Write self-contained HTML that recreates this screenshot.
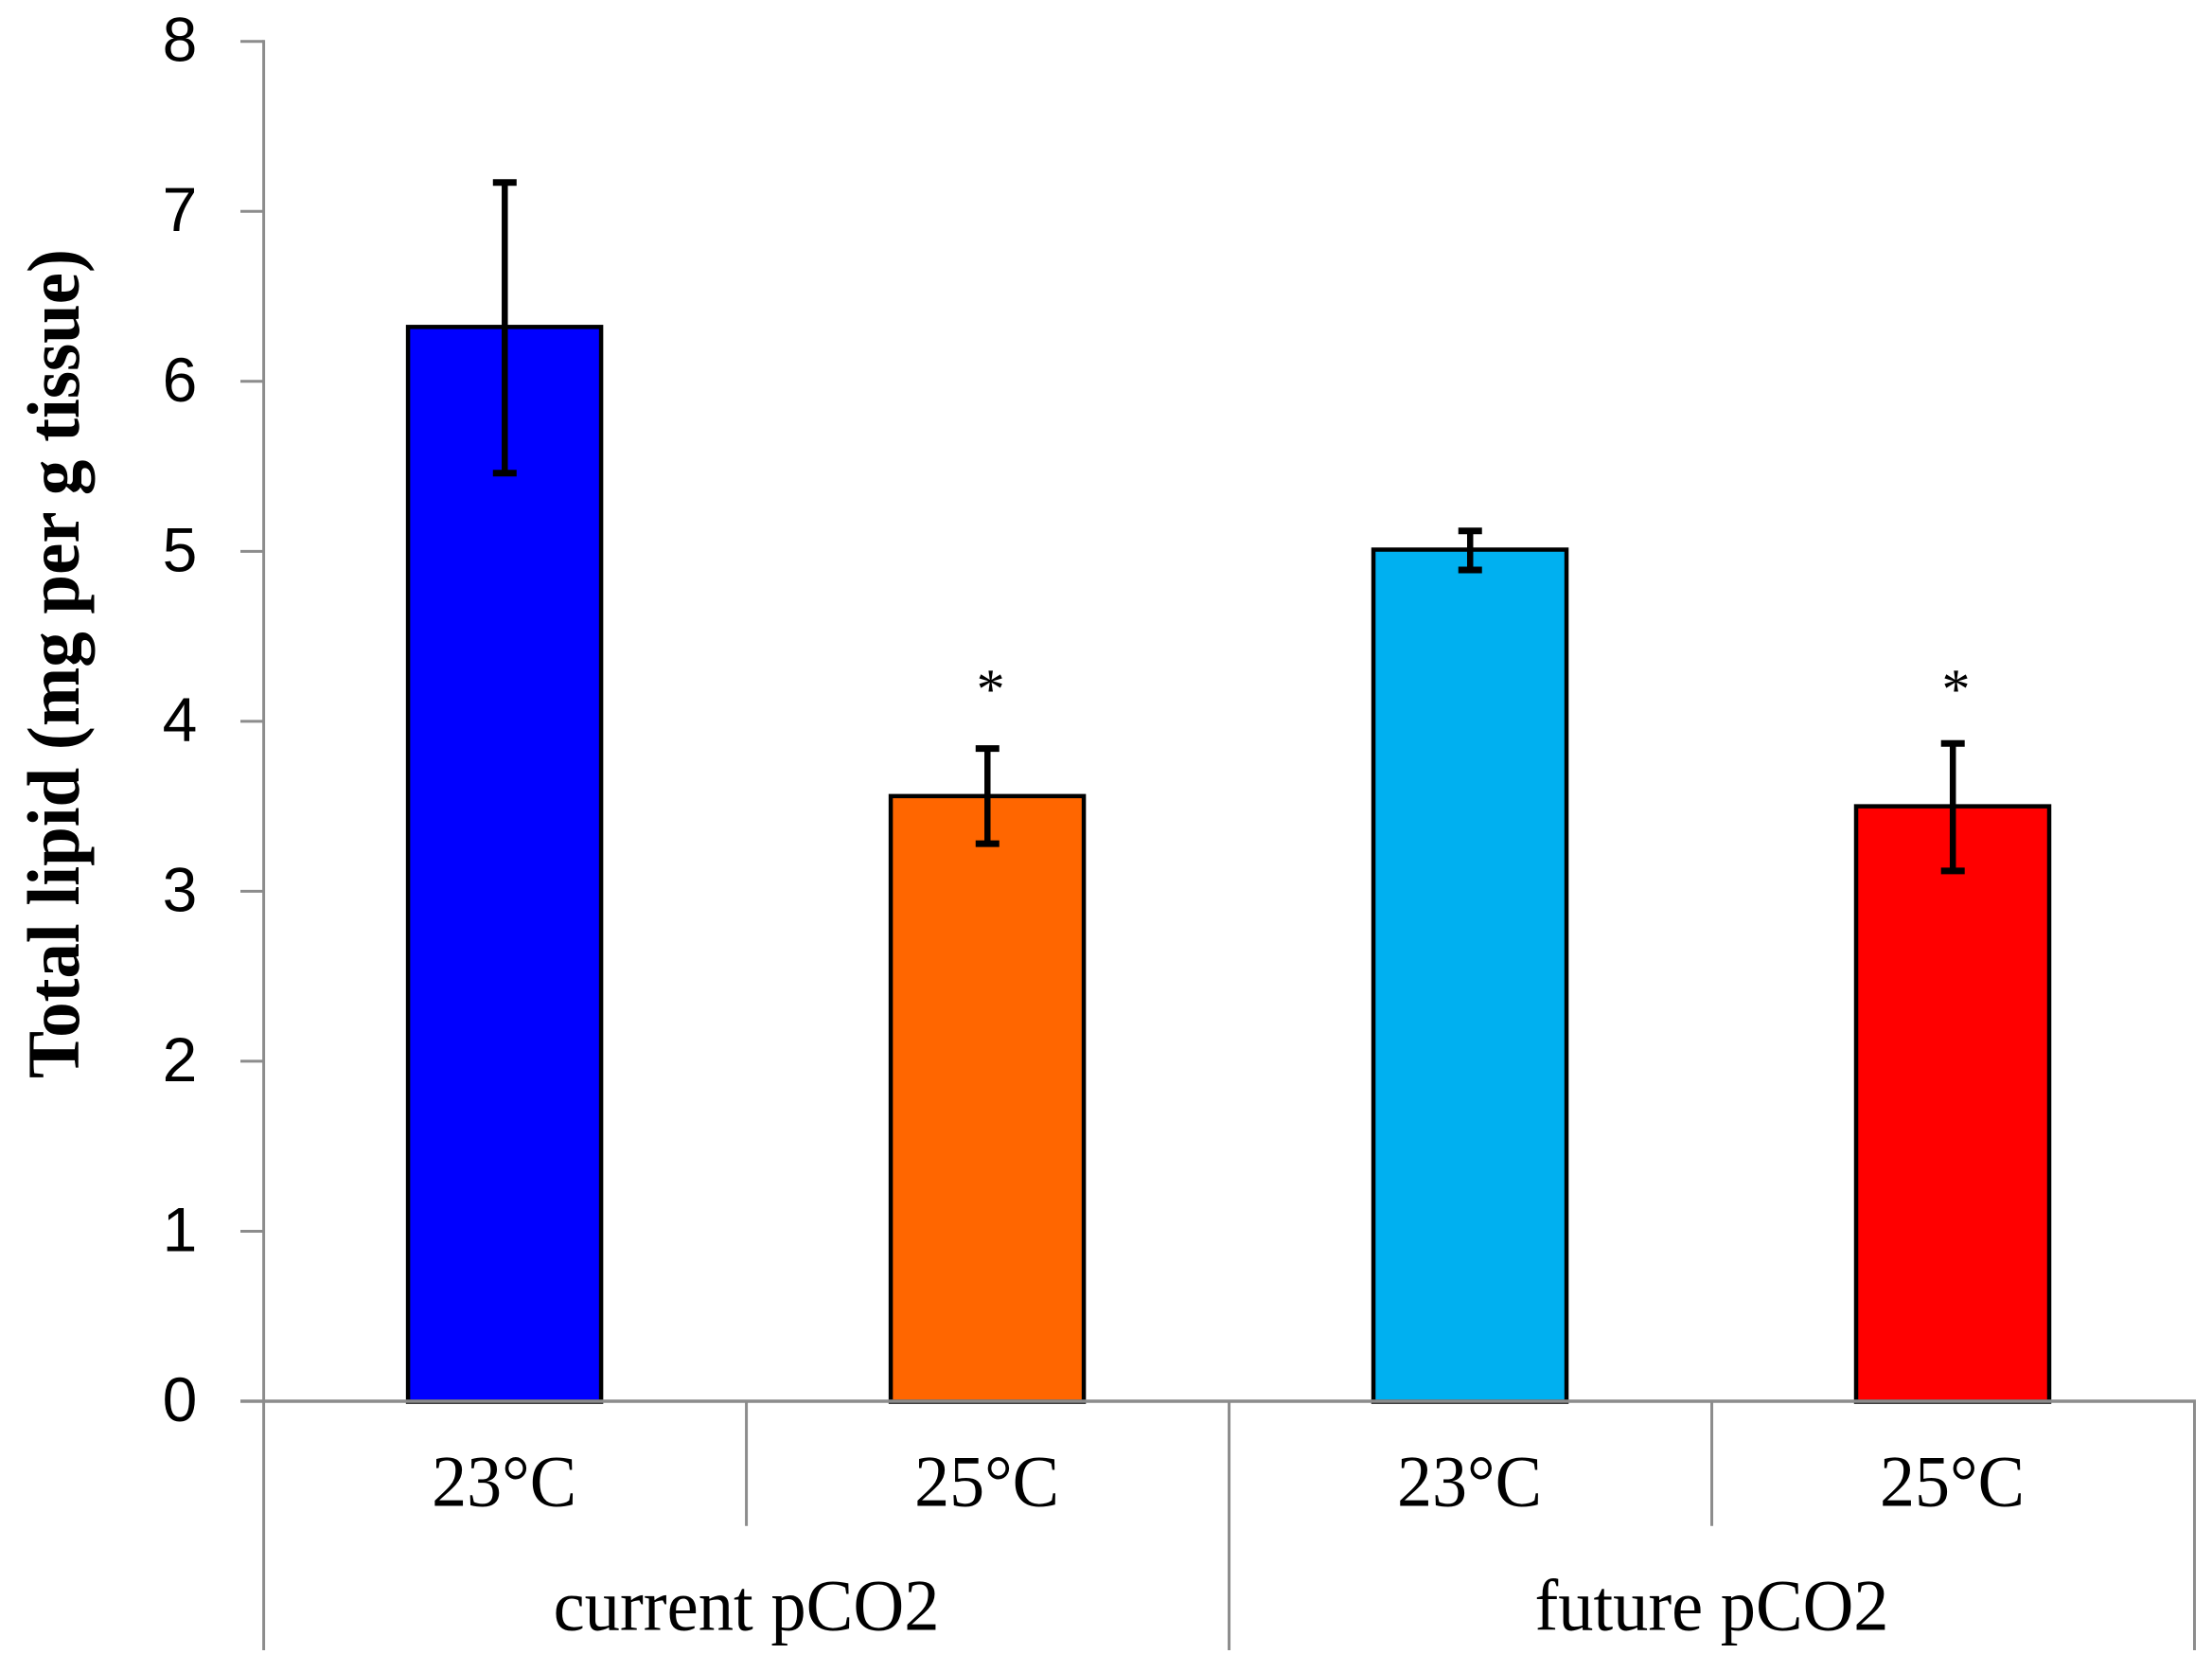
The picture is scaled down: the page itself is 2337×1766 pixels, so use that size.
<!DOCTYPE html>
<html lang="en">
<head>
<meta charset="utf-8">
<title>Total lipid bar chart</title>
<style>
html,body{margin:0;padding:0;background:#fff;width:2337px;height:1766px;overflow:hidden}
svg{display:block}
text{fill:#000}
.serif{font-family:"Liberation Serif",serif}
.sans{font-family:"Liberation Sans",sans-serif}
</style>
</head>
<body>
<svg id="chart" xmlns="http://www.w3.org/2000/svg" width="2337" height="1766" viewBox="0 0 2337 1766">
<rect x="0" y="0" width="2337" height="1766" fill="#ffffff"/>
<text class="serif" font-weight="bold" font-size="78" text-anchor="middle" textLength="876" lengthAdjust="spacingAndGlyphs" transform="translate(83,701) rotate(-90)">Total lipid (mg per g tissue)</text>
</svg>
<script>
const categories = ['23°C', '25°C', '23°C', '25°C'];
const groups = ['current pCO2', 'future pCO2'];
const lipidValues = [6.32, 3.56, 5.01, 3.5];
const errorUpper = [7.17, 3.84, 5.12, 3.87];
const errorLower = [5.46, 3.28, 4.89, 3.12];
const significant = [false, true, false, true];
const barColors = ['#0000ff', '#ff6600', '#00b0f0', '#ff0000'];
const yTicks = [0, 1, 2, 3, 4, 5, 6, 7, 8];

const svg = document.getElementById('chart');
const NS = 'http://www.w3.org/2000/svg';
const plotLeft = 278.6, plotRight = 2318.5, plotBase = 1480, plotTop = 43.7, yMax = 8;
const gray = '#8c8c8c';
const slot = (plotRight - plotLeft) / categories.length;
const barWidth = slot * 0.4;
const xEdge = i => plotLeft + slot * i;
const xMid = i => xEdge(i) + slot / 2;
const yPos = v => plotBase - (plotBase - plotTop) * v / yMax;

function make(tag, attrs, content) {
  const el = document.createElementNS(NS, tag);
  for (const k in attrs) el.setAttribute(k, attrs[k]);
  if (content !== undefined) el.textContent = content;
  svg.appendChild(el);
  return el;
}

lipidValues.forEach((v, i) => {
  const bar = make('rect', {x: xMid(i) - barWidth / 2 - 0.5, y: yPos(v), width: barWidth, height: plotBase + 0.5 - yPos(v), fill: barColors[i], stroke: '#000', 'stroke-width': 4.5});
  
  
});

const yAxis = make('line', {x1: plotLeft, x2: plotLeft, y1: plotTop - 1.5, y2: 1743, stroke: gray, 'stroke-width': 3});



yTicks.forEach(t => {
  const tick = make('line', {x1: 254, x2: plotLeft, y1: yPos(t), y2: yPos(t), stroke: gray, 'stroke-width': 3});
  
  
  const label = make('text', {x: 190, y: yPos(t) + 21, 'text-anchor': 'middle', class: 'sans', 'font-size': 66}, String(t));
  
  
});

const xAxis = make('line', {x1: 254, x2: plotRight + 1.5, y1: plotBase, y2: plotBase, stroke: gray, 'stroke-width': 3.6});



categories.forEach((c, i) => {
  const label = make('text', {x: xMid(i) - 1, y: 1590.5, 'text-anchor': 'middle', class: 'serif', 'font-size': 77, textLength: 153, lengthAdjust: 'spacingAndGlyphs'}, c);
  
  
  if (i > 0) {
    const major = i % 2 === 0;
    const sep = make('line', {x1: xEdge(i), x2: xEdge(i), y1: plotBase, y2: major ? 1743 : 1611.7, stroke: gray, 'stroke-width': 3});
    
    
  }
});

const rightSep = make('line', {x1: plotRight, x2: plotRight, y1: plotBase, y2: 1743, stroke: gray, 'stroke-width': 3});



groups.forEach((g, i) => {
  const perGroup = categories.length / groups.length;
  const label = make('text', {x: xEdge(perGroup * i + perGroup / 2), y: 1721.5, 'text-anchor': 'middle', class: 'serif', 'font-size': 77, textLength: i === 0 ? 408 : 374, lengthAdjust: 'spacingAndGlyphs'}, g);
  
  
});

lipidValues.forEach((v, i) => {
  const cx = xMid(i) - 0.3;
  const stem = make('line', {x1: cx, x2: cx, y1: yPos(errorUpper[i]), y2: yPos(errorLower[i]), stroke: '#000', 'stroke-width': 6.5});
  
  
  const capTop = make('line', {x1: cx - 12.5, x2: cx + 12.5, y1: yPos(errorUpper[i]), y2: yPos(errorUpper[i]), stroke: '#000', 'stroke-width': 7});
  
  
  const capLow = make('line', {x1: cx - 12.5, x2: cx + 12.5, y1: yPos(errorLower[i]), y2: yPos(errorLower[i]), stroke: '#000', 'stroke-width': 7});
  
  
  if (significant[i]) {
    const star = make('text', {x: xMid(i) + 3, y: 748, 'text-anchor': 'middle', class: 'serif', 'font-size': 60}, '*');
    
    
  }
});
</script>
</body>
</html>
